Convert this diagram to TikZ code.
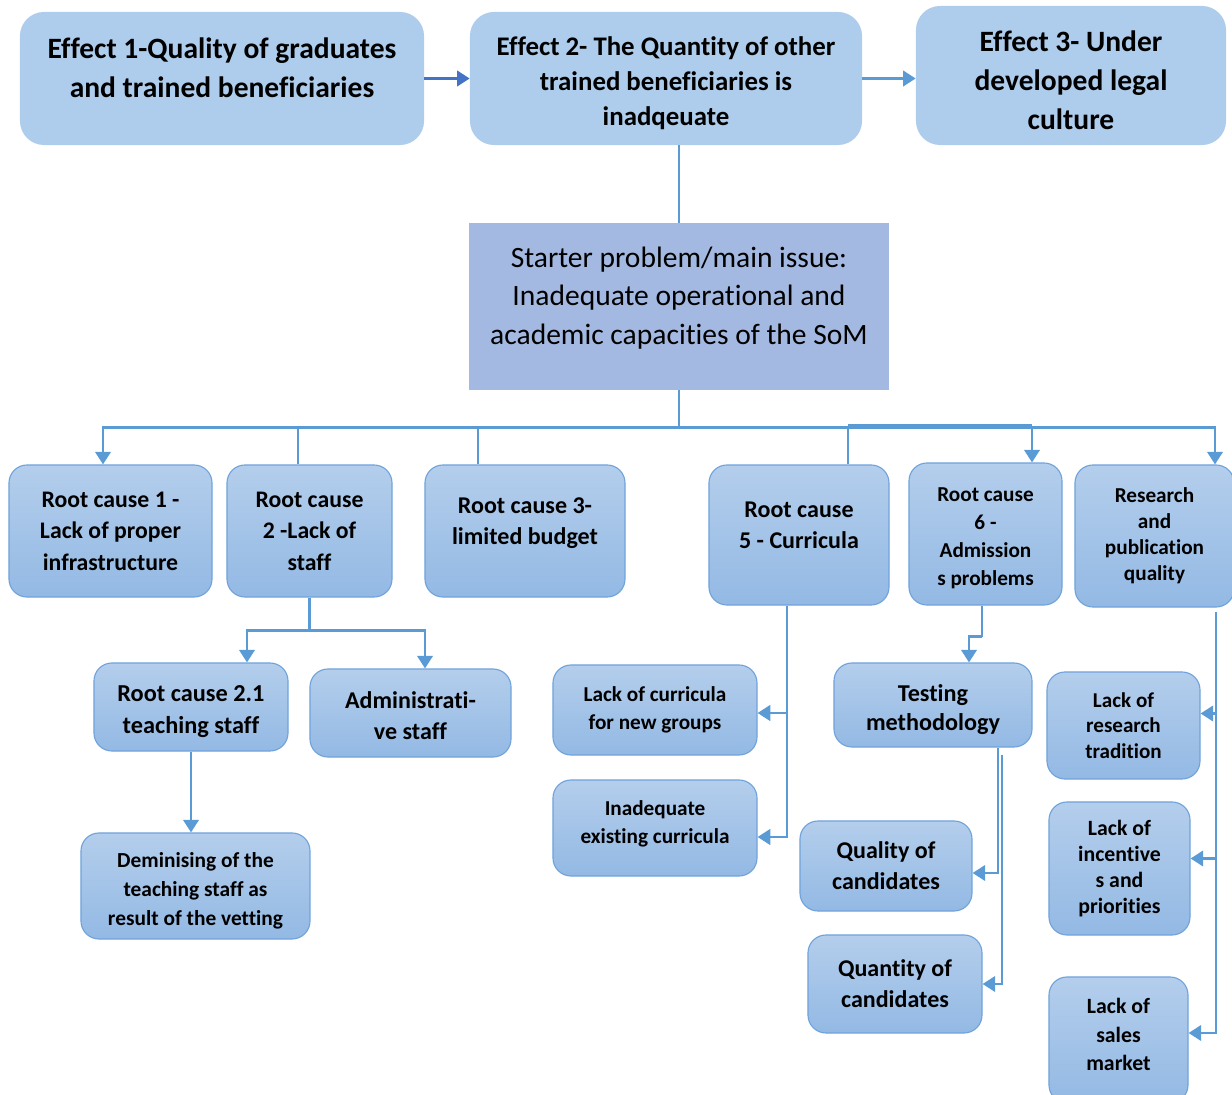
\documentclass[tikz,border=0pt]{standalone}
\usepackage{fontspec}
\setmainfont{Carlito}[Ligatures=NoCommon]
\usetikzlibrary{arrows.meta, calc}

\definecolor{effblue}{RGB}{174,204,235}
\definecolor{maincol}{RGB}{163,185,225}
\definecolor{boxtop}{RGB}{180,206,236}
\definecolor{boxbot}{RGB}{147,185,228}
\definecolor{boxline}{RGB}{112,163,219}
\definecolor{linkcol}{RGB}{91,155,213}
\definecolor{darkarr}{RGB}{68,114,196}

\newcommand{\lift}[1]{\rule[-#1]{0pt}{#1}}
\newcommand{\drop}[1]{\rule{0pt}{#1}}

\tikzset{
  effect/.style={fill=effblue, rounded corners=0.6cm, align=center, inner sep=2pt},
  cause/.style={draw=boxline, line width=0.8pt, top color=boxtop, bottom color=boxbot, rounded corners=0.45cm, align=center, inner sep=2pt},
  link/.style={draw=linkcol, line width=2pt},
  thinlink/.style={draw=linkcol, line width=1pt},
  arr/.style={link, -{Triangle[width=11pt,length=9pt]}},
}

\begin{document}
\begin{tikzpicture}[x=0.025cm, y=-0.025cm]
\useasboundingbox (0,0) rectangle (1232,1095);
\clip (0,0) rectangle (1232,1095);

% effects
\node[effect, minimum width=10.1cm, minimum height=3.325cm, font=\fontsize{21}{27.7}\selectfont\bfseries] (eff1) at (222,78.5) {Effect 1-Quality of graduates\\and trained beneficiaries\lift{15pt}};
\node[effect, minimum width=9.8cm, minimum height=3.325cm, font=\fontsize{19.1}{24.9}\selectfont\bfseries] (eff2) at (666,78.5) {\drop{20pt}Effect 2- The Quantity of other\\trained beneficiaries is\\inadqeuate};
\node[effect, minimum width=7.75cm, minimum height=3.475cm, font=\fontsize{21}{27.7}\selectfont\bfseries] (eff3) at (1071,75.5) {\drop{21.5pt}Effect 3- Under\\developed legal\\culture};

% main issue
\node[fill=maincol, minimum width=10.5cm, minimum height=4.175cm, align=center, font=\fontsize{21}{27.4}\selectfont] (main) at (679,306.5) {Starter problem/main issue:\\Inadequate operational and\\academic capacities of the SoM\lift{15.6pt}};

% root causes
\node[cause, minimum width=5.075cm, minimum height=3.3cm, font=\fontsize{16.9}{22.4}\selectfont\bfseries] (rc1) at (110.5,531) {Root cause 1 -\\Lack of proper\\infrastructure};
\node[cause, minimum width=4.125cm, minimum height=3.3cm, font=\fontsize{16.9}{22.4}\selectfont\bfseries] (rc2) at (309.5,531) {Root cause\\2 -Lack of\\staff};
\node[cause, minimum width=5cm, minimum height=3.3cm, font=\fontsize{17.1}{22}\selectfont\bfseries] (rc3) at (525,531) {Root cause 3-\\limited budget\lift{14pt}};
\node[cause, minimum width=4.5cm, minimum height=3.5cm, font=\fontsize{17.1}{22}\selectfont\bfseries] (rc5) at (799,535) {Root cause\\5 - Curricula\lift{14pt}};
\node[cause, minimum width=3.825cm, minimum height=3.55cm, font=\fontsize{15.1}{20}\selectfont\bfseries] (rc6) at (985.5,534) {\drop{16pt}Root cause\\6 -\\Admission\\s problems};
\node[cause, minimum width=3.975cm, minimum height=3.55cm, font=\fontsize{15.1}{18.5}\selectfont\bfseries] (res) at (1154.5,536) {Research\\and\\publication\\quality};

% second level
\node[cause, minimum width=4.85cm, minimum height=2.2cm, font=\fontsize{17.3}{22.7}\selectfont\bfseries] (rc21) at (191,707) {\drop{18.5pt}Root cause 2.1\\teaching staff};
\node[cause, minimum width=5.025cm, minimum height=2.2cm, font=\fontsize{17.1}{22}\selectfont\bfseries] (adm) at (410.5,713) {\drop{16pt}Administrati-\\ve staff};
\node[cause, minimum width=5.725cm, minimum height=2.65cm, font=\fontsize{15.2}{20.6}\selectfont\bfseries] (dem) at (195.5,886) {\drop{18pt}Deminising of the\\teaching staff as\\result of the vetting};
\node[cause, minimum width=5.1cm, minimum height=2.25cm, font=\fontsize{15.1}{20}\selectfont\bfseries] (curr1) at (655,710) {Lack of curricula\\for new groups};
\node[cause, minimum width=5.1cm, minimum height=2.4cm, font=\fontsize{15.1}{20}\selectfont\bfseries] (curr2) at (655,828) {Inadequate\\existing curricula\lift{8.5pt}};
\node[cause, minimum width=4.95cm, minimum height=2.1cm, font=\fontsize{17.2}{20}\selectfont\bfseries] (test) at (933,705) {\drop{18.5pt}Testing\\methodology};
\node[cause, minimum width=4.3cm, minimum height=2.25cm, font=\fontsize{17.1}{22}\selectfont\bfseries] (qual) at (886,866) {Quality of\\candidates};
\node[cause, minimum width=4.35cm, minimum height=2.45cm, font=\fontsize{17.1}{22}\selectfont\bfseries] (quan) at (895,984) {Quantity of\\candidates};
\node[cause, minimum width=3.825cm, minimum height=2.675cm, font=\fontsize{15}{18.1}\selectfont\bfseries] (resc1) at (1123.5,725.5) {Lack of\\research\\tradition};
\node[cause, minimum width=3.525cm, minimum height=3.325cm, font=\fontsize{15.5}{18.5}\selectfont\bfseries] (resc2) at (1119.5,868.5) {Lack of\\incentive\\s and\\priorities};
\node[cause, minimum width=3.475cm, minimum height=3.15cm, font=\fontsize{15.5}{20}\selectfont\bfseries] (resc3) at (1118.5,1040) {Lack of\\sales\\market\lift{8pt}};

% effect chain
\draw[arr, draw=darkarr] (eff1.east) -- (eff2.west);
\draw[arr] (eff2.east) -- (eff2.east -| eff3.west);
\draw[thinlink] (main.north) -- (main.north |- eff2.south);

% trunk to root causes
\draw[link] (main.south) -- ++(0,37) coordinate (hub);
\draw[arr] (hub) -| (103,0 |- rc1.north);
\draw[arr] (hub) -| (1032,0 |- rc6.north);
\draw[arr] (hub) -| (1215,0 |- res.north);
\draw[thinlink] (298,0 |- hub) -- (298,0 |- rc2.north);
\draw[thinlink] (478,0 |- hub) -- (478,0 |- rc3.north);
\draw[thinlink] (848,-2 |- hub) -- (848,0 |- rc5.north);
\draw[thinlink] (848,425) -- (1032,425);

% staff
\draw[link] (rc2.south) -- ++(0,33) coordinate (staffhub);
\draw[arr] (staffhub) -| (247,0 |- rc21.north);
\draw[arr] (staffhub) -| (425,0 |- adm.north);
\draw[arr] (rc21.south) -- (rc21.south |- dem.north);

% curricula
\draw[arr] (787,0 |- rc5.south) |- ($(curr1.east)+(0,3)$);
\draw[arr] (787,0 |- rc5.south) |- ($(curr2.east)+(0,9)$);

% admissions
\draw[link] (982,0 |- rc6.south) -- ++(0,31) coordinate (admhub);
\draw[arr] (admhub) -| (969,0 |- test.north);
\draw[arr] (998,0 |- test.south) |- ($(qual.east)+(0,7)$);
\draw[arr] (1002,755) |- (quan.east);

% research
\draw[arr] (1216,612) |- ($(resc1.east)+(0,-12)$);
\draw[arr] (1216,612) |- ($(resc2.east)+(0,-10)$);
\draw[arr] (1216,612) |- ($(resc3.east)+(0,-7)$);
\end{tikzpicture}
\end{document}
